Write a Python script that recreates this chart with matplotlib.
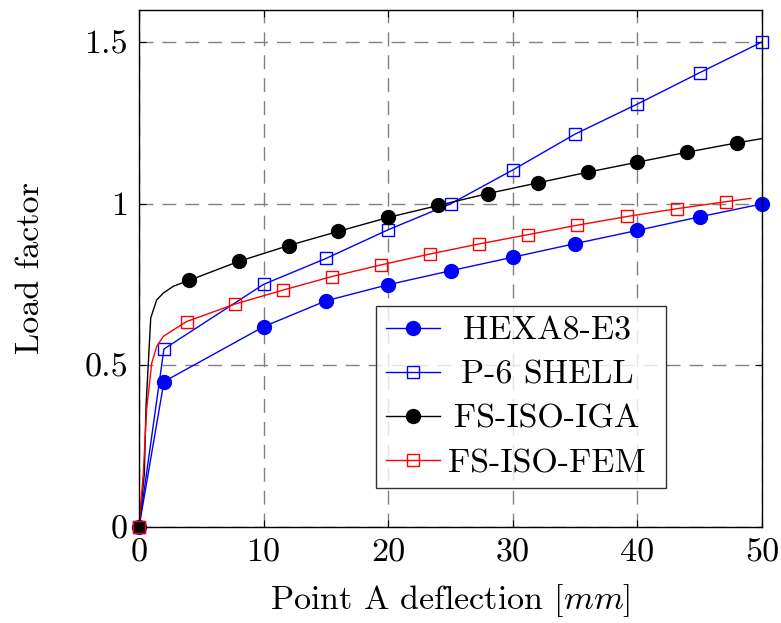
import matplotlib
matplotlib.use("Agg")
import matplotlib.pyplot as plt

plt.rcParams['font.family'] = ['cmr10', 'DejaVu Serif']
plt.rcParams['mathtext.fontset'] = 'cm'
plt.rcParams['axes.formatter.use_mathtext'] = True
plt.rcParams['lines.scale_dashes'] = False

# HEXA8-E3
hexa_x = [0, 2, 10, 15, 20, 25, 30, 35, 40, 45, 50]
hexa_y = [0, 0.45, 0.62, 0.70, 0.75, 0.793, 0.835, 0.877, 0.918, 0.96, 1.0]

# P-6 SHELL
shell_x = [0, 2, 10, 15, 20, 25, 30, 35, 40, 45, 50]
shell_y = [0, 0.551, 0.751, 0.831, 0.92, 1.0, 1.105, 1.216, 1.309, 1.406, 1.501]

# FS-ISO-IGA (curve, markers every 4 mm)
iga_x = [0, 0.43, 0.56, 0.94, 1.42, 1.95, 2.75, 4, 8, 12, 16, 20, 24, 28, 32, 36, 40, 44, 48, 50]
iga_y = [0, 0.166, 0.373, 0.647, 0.703, 0.724, 0.745, 0.763, 0.822, 0.871, 0.915, 0.958, 0.995,
         1.032, 1.065, 1.098, 1.129, 1.160, 1.189, 1.202]
iga_marks = [0, 7, 8, 9, 10, 11, 12, 13, 14, 15, 16, 17, 18]

# FS-ISO-FEM
fem_x = [0, 0.35, 0.6, 1.02, 1.42, 1.95, 2.75, 3.83, 7.7, 11.53, 15.47, 19.4, 23.35, 27.29,
         31.25, 35.18, 39.17, 43.15, 47.14, 49.1]
fem_y = [0, 0.17, 0.36, 0.507, 0.559, 0.59, 0.61, 0.636, 0.690, 0.733, 0.775, 0.811, 0.845,
         0.876, 0.905, 0.934, 0.961, 0.985, 1.007, 1.017]
fem_marks = [0, 7, 8, 9, 10, 11, 12, 13, 14, 15, 16, 17, 18]

xticks = [0, 10, 20, 30, 40, 50]
yticks = [0, 0.5, 1, 1.5]
ytick_labels = ["0", "0.5", "1", "1.5"]

fig = plt.figure(figsize=(7.81, 6.23), dpi=100)
ax = fig.add_axes([0.178, 0.154, 0.7977, 0.830])

lw = 1.0
ax.plot(hexa_x, hexa_y, color="blue", lw=lw, marker="o", ms=10, mfc="blue", mec="blue",
        clip_on=False, label="HEXA8-E3")
ax.plot(shell_x, shell_y, color="blue", lw=lw, marker="s", ms=9, mfc="none", mec="blue",
        mew=1.0, clip_on=False, label="P-6 SHELL")
ax.plot(iga_x, iga_y, color="black", lw=lw, marker="o", ms=10, mfc="black", mec="black",
        markevery=iga_marks[1:], clip_on=False, label="FS-ISO-IGA")
ax.plot(fem_x, fem_y, color="red", lw=lw, marker="s", ms=9, mfc="none", mec="red",
        mew=1.0, markevery=fem_marks[1:], clip_on=False, label="FS-ISO-FEM")
# origin mark
ax.plot(fem_x[:1], fem_y[:1], ls="none", marker="s", ms=9, mfc="black", mec="red", mew=1.0,
        clip_on=False, zorder=5)

ax.set_xlim(0, 50)
ax.set_ylim(0, 1.6)
ax.set_xticks(xticks)
ax.set_xticklabels([str(t) for t in xticks])
ax.set_yticks(yticks)
ax.set_yticklabels(ytick_labels)
ax.tick_params(direction="in", top=True, right=True, labelsize=24.5, length=5,
               width=0.8, pad=8)
ax.grid(True, color="#808080", lw=1.0, linestyle=(0, (10, 6.5)))
ax.set_axisbelow(True)
for s in ax.spines.values():
    s.set_linewidth(1.0)

ax.set_xlabel("Point A deflection [$mm$]", fontsize=24.5, labelpad=11)
ax.set_ylabel("Load factor", fontsize=24.5, labelpad=28)

leg = ax.legend(loc="lower left", bbox_to_anchor=(0.38, 0.075, 0.466, 0.35), mode="expand",
                fontsize=24.5, frameon=True, fancybox=False, edgecolor="black",
                handlelength=1.6, handletextpad=0.23, labelspacing=0.42, borderpad=0.3,
                borderaxespad=0, markerscale=1.0)
leg.get_frame().set_linewidth(1.0)

# centre the legend texts in their column, like pgfplots does
fig.canvas.draw()
r = fig.canvas.get_renderer()
widths = [t.get_window_extent(r).width for t in leg.get_texts()]
wmax = max(widths)
for t, w in zip(leg.get_texts(), widths):
    t.set_x((wmax - w) / 2)

fig.savefig("out.png", dpi=100)
